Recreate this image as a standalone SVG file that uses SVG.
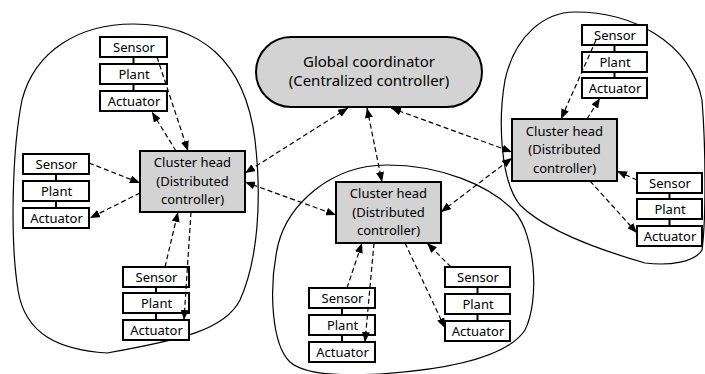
<svg xmlns="http://www.w3.org/2000/svg" width="705" height="374" viewBox="0 0 705 374">
<defs>
<marker id="ah" viewBox="0 0 10 8" refX="10" refY="4" markerWidth="10" markerHeight="8" markerUnits="userSpaceOnUse" orient="auto-start-reverse">
<path d="M0,0 L10,4 L0,8 z" fill="#000"/>
</marker>
<style>
.blob{fill:none;stroke:#000;stroke-width:1.2}
.box{fill:#fff;stroke:#000;stroke-width:2}
.head{fill:#d3d3d3;stroke:#000;stroke-width:2}
.link{stroke:#000;stroke-width:2}
.t{font-family:"Noto Sans","Open Sans",sans-serif;font-size:13px;fill:#000;text-anchor:middle}
.g{font-size:15px}
.c{fill:none;stroke:#000;stroke-width:1.2;stroke-dasharray:5,3;marker-end:url(#ah)}
.bi{marker-start:url(#ah)}
</style>
</defs>
<rect width="705" height="374" fill="#fff"/>
<g id="regions">
<path class="blob" d="M107,353 C60,350 25,335 18,290 C10,240 12,150 22,100 C35,50 80,24 133,24 C200,24 245,60 255,140 C262,200 258,260 240,300 C225,330 180,340 107,353 Z"/>
<path class="blob" d="M387,165 C440,165 490,185 515,212 C535,235 540,300 525,330 C505,360 440,370 380,374 C340,376 305,375 290,362 C272,345 268,290 278,245 C288,205 330,165 387,165 Z"/>
<path class="blob" d="M575,12 C630,12 690,40 702,100 C706,150 706,220 702,250 C695,262 670,266 645,263 C600,250 545,230 520,205 C500,180 498,120 505,80 C515,35 545,12 575,12 Z"/>
</g>
<g id="global">
<rect class="head" x="256" y="37" width="226" height="70" rx="35"/>
<text class="t g" x="369" y="66.5">Global coordinator</text>
<text class="t g" x="369" y="86">(Centralized controller)</text>
</g>
<g id="head-left">
<rect class="head" x="140" y="151" width="105" height="61"/>
<text class="t" x="192.5" y="167">Cluster head</text>
<text class="t" x="192.5" y="185.5">(Distributed</text>
<text class="t" x="192.5" y="204">controller)</text>
</g>
<g id="head-center">
<rect class="head" x="336" y="182" width="105" height="61"/>
<text class="t" x="388.5" y="198">Cluster head</text>
<text class="t" x="388.5" y="216.5">(Distributed</text>
<text class="t" x="388.5" y="235">controller)</text>
</g>
<g id="head-right">
<rect class="head" x="512" y="119" width="105" height="62"/>
<text class="t" x="564.5" y="135.5">Cluster head</text>
<text class="t" x="564.5" y="154">(Distributed</text>
<text class="t" x="564.5" y="172.5">controller)</text>
</g>
<g id="stack-left-top">
<line class="link" x1="133.5" y1="57" x2="133.5" y2="64"/>
<line class="link" x1="133.5" y1="84" x2="133.5" y2="91"/>
<rect class="box" x="100" y="37" width="67" height="20"/><text class="t" x="134" y="52">Sensor</text>
<rect class="box" x="100" y="64" width="67" height="20"/><text class="t" x="134" y="79">Plant</text>
<rect class="box" x="100" y="91" width="67" height="20"/><text class="t" x="134" y="106">Actuator</text>
</g>
<g id="stack-left-side">
<line class="link" x1="56" y1="174" x2="56" y2="181"/>
<line class="link" x1="56" y1="201" x2="56" y2="208"/>
<rect class="box" x="23" y="154" width="66" height="20"/><text class="t" x="56.5" y="169">Sensor</text>
<rect class="box" x="23" y="181" width="66" height="20"/><text class="t" x="56.5" y="196">Plant</text>
<rect class="box" x="23" y="208" width="66" height="20"/><text class="t" x="56.5" y="223">Actuator</text>
</g>
<g id="stack-left-bottom">
<line class="link" x1="156" y1="287" x2="156" y2="293"/>
<line class="link" x1="156" y1="313" x2="156" y2="320"/>
<rect class="box" x="123" y="267" width="66" height="20"/><text class="t" x="156.5" y="282">Sensor</text>
<rect class="box" x="123" y="293" width="66" height="20"/><text class="t" x="156.5" y="308">Plant</text>
<rect class="box" x="123" y="320" width="66" height="20"/><text class="t" x="156.5" y="335">Actuator</text>
</g>
<g id="stack-center-left">
<line class="link" x1="342" y1="308" x2="342" y2="315"/>
<line class="link" x1="342" y1="335" x2="342" y2="342"/>
<rect class="box" x="309" y="288" width="66" height="20"/><text class="t" x="342.5" y="303">Sensor</text>
<rect class="box" x="309" y="315" width="66" height="20"/><text class="t" x="342.5" y="330">Plant</text>
<rect class="box" x="309" y="342" width="66" height="20"/><text class="t" x="342.5" y="357">Actuator</text>
</g>
<g id="stack-center-right">
<line class="link" x1="477.5" y1="287" x2="477.5" y2="294"/>
<line class="link" x1="477.5" y1="314" x2="477.5" y2="321"/>
<rect class="box" x="445" y="267" width="65" height="20"/><text class="t" x="478" y="282">Sensor</text>
<rect class="box" x="445" y="294" width="65" height="20"/><text class="t" x="478" y="309">Plant</text>
<rect class="box" x="445" y="321" width="65" height="20"/><text class="t" x="478" y="336">Actuator</text>
</g>
<g id="stack-right-top">
<line class="link" x1="614.5" y1="45" x2="614.5" y2="52"/>
<line class="link" x1="614.5" y1="72" x2="614.5" y2="78"/>
<rect class="box" x="582" y="25" width="65" height="20"/><text class="t" x="615" y="40">Sensor</text>
<rect class="box" x="582" y="52" width="65" height="20"/><text class="t" x="615" y="67">Plant</text>
<rect class="box" x="582" y="78" width="65" height="20"/><text class="t" x="615" y="93">Actuator</text>
</g>
<g id="stack-right-side">
<line class="link" x1="669.5" y1="193" x2="669.5" y2="199"/>
<line class="link" x1="669.5" y1="219" x2="669.5" y2="226"/>
<rect class="box" x="637" y="173" width="65" height="20"/><text class="t" x="670" y="188">Sensor</text>
<rect class="box" x="637" y="199" width="65" height="20"/><text class="t" x="670" y="214">Plant</text>
<rect class="box" x="637" y="226" width="65" height="20"/><text class="t" x="670" y="241">Actuator</text>
</g>
<g id="connectors">
<line class="c" x1="157" y1="57" x2="188" y2="151"/>
<line class="c" x1="176" y1="151" x2="152" y2="112"/>
<line class="c" x1="89" y1="163" x2="140" y2="183"/>
<line class="c" x1="140" y1="193" x2="90" y2="218"/>
<line class="c" x1="165" y1="267" x2="178" y2="212"/>
<line class="c" x1="191" y1="212" x2="184" y2="320"/>
<line class="c bi" x1="348" y1="108" x2="245" y2="173"/>
<line class="c bi" x1="245" y1="182" x2="336" y2="215"/>
<line class="c bi" x1="367" y1="108" x2="382" y2="182"/>
<line class="c bi" x1="391" y1="108" x2="512" y2="152"/>
<line class="c bi" x1="441" y1="212" x2="512" y2="158"/>
<line class="c" x1="347" y1="288" x2="362" y2="243"/>
<line class="c" x1="374" y1="243" x2="365" y2="342"/>
<line class="c" x1="405" y1="243" x2="445" y2="328"/>
<line class="c" x1="451" y1="267" x2="427" y2="243"/>
<line class="c" x1="596" y1="40" x2="561" y2="119"/>
<line class="c" x1="587" y1="119" x2="600" y2="98"/>
<line class="c" x1="637" y1="180" x2="617" y2="171"/>
<line class="c" x1="590" y1="181" x2="637" y2="233"/>
</g>
</svg>
